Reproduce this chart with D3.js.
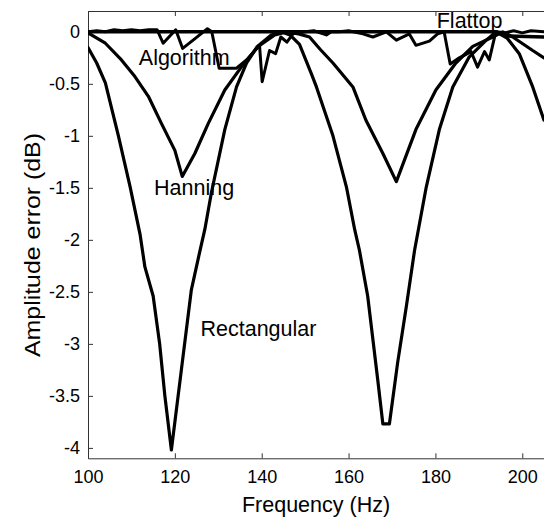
<!DOCTYPE html>
<html>
<head>
<meta charset="utf-8">
<script src="https://cdn.jsdelivr.net/npm/d3@7"></script>
<style>
  html, body { margin: 0; padding: 0; background: #fff; }
  svg { display: block; font-family: "Liberation Sans", Arial, Helvetica, sans-serif; }
</style>
</head>
<body>
<svg id="chart" width="544" height="517"></svg>
<script>
// ---- data ----
const xTicks = [100, 120, 140, 160, 180, 200];
const yTicks = [0, -0.5, -1, -1.5, -2, -2.5, -3, -3.5, -4];
const yTickLabels = ["0", "-0.5", "-1", "-1.5", "-2", "-2.5", "-3", "-3.5", "-4"];

const rectFreq = [100, 102, 104, 107, 109.7, 112, 113.1, 115, 116.5, 117.7, 119.2, 121.5, 123.8, 125.7, 126.9, 128.4, 131.5, 134.2, 136.5, 139, 142.2, 144.5, 146.5, 148.7, 151.4, 152.6, 156.4, 159.5, 161.4, 162.5, 164.4, 166.7, 167.9, 169.4, 171.3, 173.3, 175.2, 177.9, 180.9, 184, 187.8, 191.7, 194, 196.5, 199.3, 202.4, 205];
const rectVal  = [-0.15, -0.3, -0.49, -1.0, -1.49, -1.95, -2.26, -2.54, -3.0, -3.5, -4.02, -3.25, -2.48, -2.12, -1.9, -1.55, -0.94, -0.53, -0.3, -0.14, -0.03, 0, -0.03, -0.12, -0.4, -0.53, -1.0, -1.49, -1.9, -2.1, -2.54, -3.34, -3.77, -3.77, -3.18, -2.64, -2.1, -1.49, -0.94, -0.53, -0.24, -0.08, 0, -0.06, -0.21, -0.53, -0.85];

const hannFreq = [100, 104, 107.7, 110.8, 113.9, 116.9, 120, 121.7, 124.6, 127.7, 131.5, 135.3, 139.2, 143, 146, 148.5, 151, 153.5, 156.4, 161, 164, 167.9, 171, 175.5, 180.1, 184.7, 188.6, 193.2, 195.5, 197.8, 202.4, 205];
const hannVal  = [-0.01, -0.11, -0.27, -0.43, -0.62, -0.88, -1.14, -1.39, -1.17, -0.88, -0.56, -0.34, -0.14, -0.03, 0, -0.02, -0.05, -0.17, -0.3, -0.53, -0.85, -1.17, -1.44, -0.94, -0.56, -0.3, -0.14, -0.05, 0, -0.05, -0.18, -0.25];

const algoFreq = [100, 102, 104, 106, 108, 110, 112, 114, 115.9, 117.3, 120.2, 121.8, 124.5, 127.5, 128.5, 130.2, 134.2, 136.5, 139.5, 140.1, 141.8, 143.2, 144.4, 145.8, 147.2, 150, 152, 154.9, 156, 157.9, 160, 163.3, 165.6, 168.7, 171, 174, 175.5, 178.6, 180.5, 182, 183.4, 185.5, 188.2, 189.7, 191.3, 192.4, 193.9, 196, 198, 200, 202, 205];
const algoVal  = [0, 0.01, 0.0, 0.02, 0.01, 0.02, 0.01, 0.02, 0.02, -0.11, 0.02, -0.16, -0.07, 0.03, 0.0, -0.35, -0.35, -0.27, -0.13, -0.48, -0.18, -0.21, -0.05, -0.1, -0.02, 0, 0.01, -0.03, 0.0, 0.0, 0.01, -0.02, -0.05, 0, -0.08, -0.02, -0.13, -0.09, -0.02, 0, -0.31, -0.25, -0.19, -0.34, -0.19, -0.27, 0, -0.01, 0.01, -0.01, 0.01, 0];

const flatFreq = [100, 120, 140, 160, 180, 194, 196, 205];
const flatVal  = [0, 0, 0, 0, 0, 0, -0.04, -0.05];

const curveLabels = ["Algorithm", "Hanning", "Rectangular", "Flattop"];

// ---- layout ----
const svg = d3.select("#chart");
const mLeft = 88, mRight = 544, mTop = 11, mBottom = 458.3;
const x = d3.scaleLinear().domain([100, 205]).range([mLeft, mRight]);
const y = d3.scaleLinear().domain([-4.1, 0.2]).range([mBottom, mTop]);

svg.append("defs").append("clipPath").attr("id", "clip")
  .append("rect").attr("x", mLeft).attr("y", mTop).attr("width", mRight - mLeft).attr("height", mBottom - mTop);

const axisColor = "#333";
const tickFont = "18px";

// bottom axis
const gx = svg.append("g").attr("transform", `translate(0,${mBottom})`)
  .call(d3.axisBottom(x).tickValues(xTicks).tickSizeInner(-5).tickSizeOuter(0).tickPadding(11.5));
gx.selectAll("text").attr("font-size", tickFont).attr("fill", "#000")
  .attr("font-family", "'Liberation Sans', Arial, sans-serif");

// top axis ticks
const gxt = svg.append("g").attr("transform", `translate(0,${mTop})`)
  .call(d3.axisTop(x).tickValues(xTicks).tickSizeInner(-5).tickSizeOuter(0).tickFormat(""));

// left axis
const gy = svg.append("g").attr("transform", `translate(${mLeft},0)`)
  .call(d3.axisLeft(y).tickValues(yTicks).tickSizeInner(-5).tickSizeOuter(0).tickPadding(8)
    .tickFormat((d, i) => yTickLabels[i]));
gy.selectAll("text").attr("font-size", tickFont).attr("fill", "#000")
  .attr("font-family", "'Liberation Sans', Arial, sans-serif");

[gx, gxt, gy].forEach(g => {
  g.selectAll(".domain").attr("stroke", axisColor);
  g.selectAll(".tick line").attr("stroke", axisColor);
});

// ---- curves ----
const line = d3.line().x(d => x(d[0])).y(d => y(d[1]));
const plot = svg.append("g").attr("clip-path", "url(#clip)");

function draw(fr, vals, w) {
  plot.append("path")
    .datum(fr.map((f, i) => [f, vals[i]]))
    .attr("d", line)
    .attr("fill", "none")
    .attr("stroke", "#000")
    .attr("stroke-width", w)
    .attr("stroke-linejoin", "round")
    .attr("stroke-linecap", "round");
}
draw(flatFreq, flatVal, 3.6);
draw(rectFreq, rectVal, 3.2);
draw(hannFreq, hannVal, 3.2);
draw(algoFreq, algoVal, 3);

// ---- curve labels ----
const labelFont = "21.5px";
svg.append("text").attr("x", x(111.7)).attr("y", y(-0.32)).attr("font-size", labelFont).text(curveLabels[0]);
svg.append("text").attr("x", x(115.2)).attr("y", y(-1.57)).attr("font-size", labelFont).text(curveLabels[1]);
svg.append("text").attr("x", x(125.9)).attr("y", y(-2.92)).attr("font-size", labelFont).text(curveLabels[2]);
svg.append("text").attr("x", x(180.3)).attr("y", y(0.033)).attr("font-size", labelFont).text(curveLabels[3]);

// ---- axis titles ----
svg.append("text")
  .attr("x", (mLeft + mRight) / 2).attr("y", 511.5)
  .attr("text-anchor", "middle").attr("font-size", "21.5px")
  .text("Frequency (Hz)");
svg.append("text")
  .attr("transform", `translate(40,245) rotate(-90)`)
  .attr("text-anchor", "middle").attr("font-size", "21.5px")
  .attr("textLength", 224).attr("lengthAdjust", "spacingAndGlyphs")
  .text("Amplitude error (dB)");
</script>
</body>
</html>
